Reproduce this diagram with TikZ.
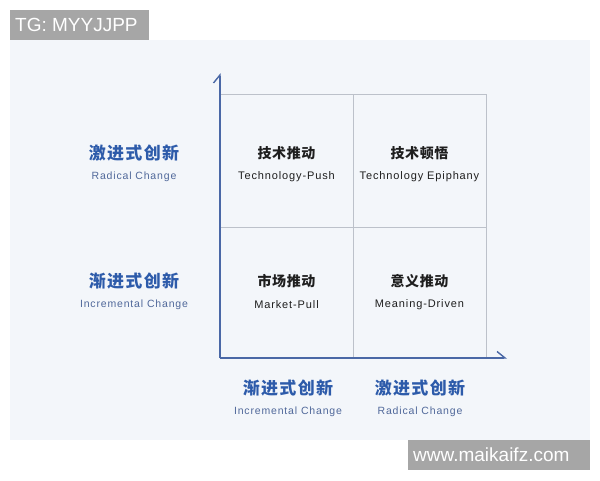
\documentclass[tikz,border=0pt]{standalone}
\usepackage{fontspec}
\setmainfont{Liberation Sans}
\newfontfamily\cjk{Noto Sans CJK SC}[LetterSpace=4]
\newfontfamily\cjkwide{Noto Sans CJK SC}[LetterSpace=8]
\newfontfamily\eng{Liberation Sans}[LetterSpace=8]
\usetikzlibrary{arrows.meta}

\definecolor{panel}{HTML}{F3F6FA}
\definecolor{markgray}{HTML}{A6A6A6}
\definecolor{gridgray}{HTML}{BCC1CA}
\definecolor{axisblue}{HTML}{4A68A6}
\definecolor{labelblue}{HTML}{2D5BAA}
\definecolor{subblue}{HTML}{50689A}
\definecolor{ink}{HTML}{1E1E1E}

\begin{document}
\begin{tikzpicture}[x=1pt,y=-1pt,
        every node/.append style={inner sep=0pt},
        gridline/.style={draw=gridgray,line width=1pt},
        axis/.style={draw=axisblue,line width=1.4pt,-{Straight Barb[left,length=8pt,width=13pt]}},
        cellcn/.style={text=ink,font=\cjk\bfseries\fontsize{14}{14}\selectfont},
        cellen/.style={text=ink,font=\eng\fontsize{11}{11}\selectfont},
        sidecn/.style={text=labelblue,font=\cjkwide\bfseries\fontsize{17}{17}\selectfont},
        sideen/.style={text=subblue,font=\eng\fontsize{10.5}{10.5}\selectfont},
        markbox/.style={fill=markgray},
        marktext/.style={text=white,font=\fontsize{19}{19}\selectfont}
    ]
        \useasboundingbox (0,0) rectangle (600,480);
        \fill [panel] (10,40) rectangle (590,440);

        % watermarks
        \fill [markbox] (10,10) rectangle (149,40);
        \node[marktext,anchor=west] (tg) at (15,25) {TG: MYYJJPP};
        \fill [markbox] (408,440) rectangle (590,470);
        \node[marktext,anchor=west] (site) at (413,455) {www.maikaifz.com};

        % grid
        \draw [gridline] (220,94) rectangle (486,358);
        \draw [gridline] (353,94) -- (353,358) (220,227) -- (486,227);

        % axes
        \coordinate (o) at (220,358);
        \coordinate (ytop) at (220,73);
        \coordinate (xend) at (507,358);
        \draw [axis] (o) -- (ytop);
        \draw [axis] (o) -- (xend);

        % quadrants
        \node[cellcn] (push) at (286.5,153) {技术推动};
        \node[cellen] (pushen) at (286.5,177) {Technology-Push};
        \node[cellcn] (epiph) at (419.5,153) {技术顿悟};
        \node[cellen] (epiphen) at (419.5,177) {Technology Epiphany};
        \node[cellcn] (pull) at (286.5,281) {市场推动};
        \node[cellen] (pullen) at (286.5,305) {Market-Pull};
        \node[cellcn] (mean) at (419.5,281) {意义推动};
        \node[cellen] (meanen) at (419.5,305) {Meaning-Driven};

        % vertical axis labels
        \node[sidecn] (yrad) at (134,153) {激进式创新};
        \node[sideen] (yraden) at (134,177) {Radical Change};
        \node[sidecn] (yinc) at (134,281) {渐进式创新};
        \node[sideen] (yincen) at (134,305) {Incremental Change};

        % horizontal axis labels
        \node[sidecn] (xinc) at (288,388) {渐进式创新};
        \node[sideen] (xincen) at (288,412) {Incremental Change};
        \node[sidecn] (xrad) at (420,388) {激进式创新};
        \node[sideen] (xraden) at (420,412) {Radical Change};
    \end{tikzpicture}
\end{document}
